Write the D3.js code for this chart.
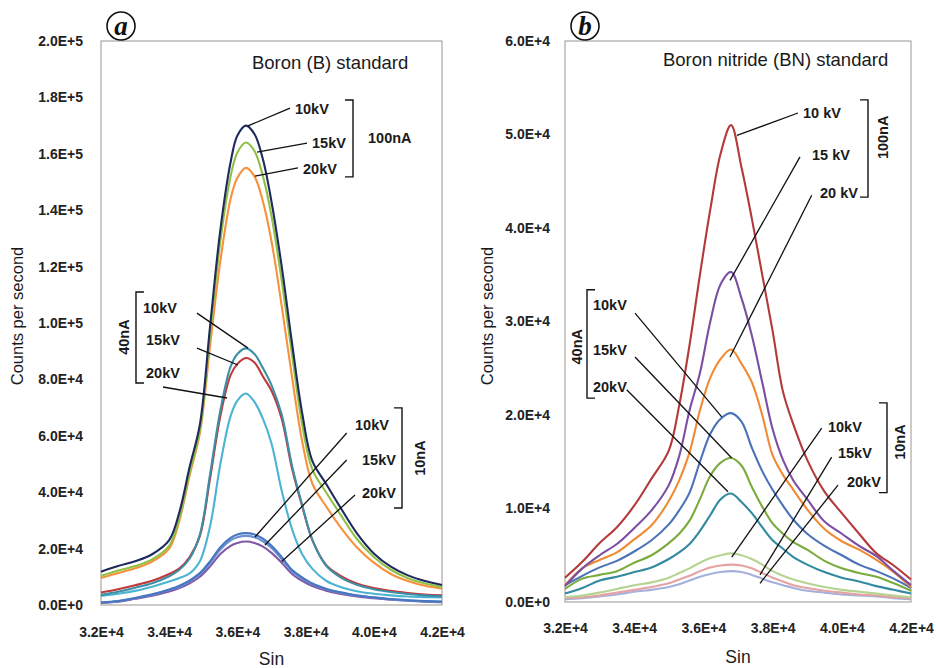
<html>
<head>
<script src="https://d3js.org/d3.v7.min.js"></script>
<style>
  body { margin: 0; background: #fff; }
  .tick text { font-family: "Liberation Sans", Arial, sans-serif; font-weight: bold; font-size: 14px; fill: #222; }
  .lab { font-family: "Liberation Sans", Arial, sans-serif; font-weight: bold; font-size: 14.5px; fill: #1a1a1a; }
  .ttl { font-family: "Liberation Sans", Arial, sans-serif; font-size: 18.5px; fill: #1a1a1a; }
  .axt { font-family: "Liberation Sans", Arial, sans-serif; font-size: 17.5px; fill: #1a1a1a; }
  .ylab { font-size: 16.5px; }
</style>
</head>
<body>
<script>
// x values (Sin) sampled for each panel
const sinA = [32000, 32500, 33000, 33500, 34000, 34300, 34600, 34900, 35200, 35500, 35800, 36000, 36250, 36500,
              36750, 37000, 37300, 37600, 37900, 38200, 38600, 39000, 39500, 40000, 40500, 41000, 41500, 42000];
const sinB = [32000, 32500, 33000, 33500, 34000, 34500, 35000, 35300, 35600, 35900, 36200, 36500, 36800,
              37100, 37400, 37700, 38000, 38300, 38600, 39000, 39500, 40000, 40500, 41000, 41500, 42000];

// counts per second, in thousands
// (a) boron standard
const a100_10 = [11.8, 13.8, 15.5, 18.0, 23, 33, 49, 64, 99, 133, 157, 166.5, 170, 167, 158, 143, 120, 93, 68, 51, 43, 35, 25.5, 18.3, 13.6, 10.5, 8.5, 7.1];
const a100_15 = [10.3, 12.2, 13.8, 16.2, 21, 31, 47, 62, 96, 129, 152, 160.5, 164, 161, 152, 138, 115, 89, 64, 48, 40, 32.5, 23.5, 17, 12.5, 9.5, 7.6, 6.4];
const a100_20 = [9.6, 11.3, 13, 15.4, 20, 30, 46, 61, 92, 122, 144, 151.5, 155, 152, 143, 129, 106, 81, 58, 43, 35, 28, 20.5, 15, 11, 8.5, 6.8, 5.8];
const a40_10 = [3.6, 4.7, 6.1, 7.7, 10.2, 12.5, 16.5, 25, 46.5, 69, 84.5, 89, 91, 89, 84, 78, 67.5, 49.5, 35.5, 23, 14, 10, 7.2, 5.6, 4.6, 3.9, 3.4, 3.1];
const a40_15 = [4.4, 5.6, 7.0, 8.6, 11, 13, 17, 24.5, 45, 67, 81.5, 85.5, 87.6, 86, 81, 76, 66, 48.5, 35, 23, 14.2, 10.5, 7.6, 6, 5, 4.2, 3.7, 3.4];
const a40_20 = [3.2, 4.0, 5.0, 6.5, 8.3, 9.6, 11.2, 15.5, 28, 50, 67, 72.5, 75, 72, 66, 57.3, 40.5, 27, 18, 12.8, 8.6, 6.5, 4.9, 4.0, 3.4, 3.0, 2.8, 2.7];
const a10_10 = [0.9, 1.4, 2.5, 3.8, 5.5, 6.8, 8.7, 11.3, 15.5, 20.5, 23.8, 25, 25.5, 25, 23.5, 21, 17, 12.5, 9.8, 7.6, 5.8, 4.6, 3.4, 2.7, 2.1, 1.7, 1.4, 1.2];
const a10_15 = [0.9, 1.3, 2.4, 3.6, 5.3, 6.5, 8.4, 10.9, 14.9, 19.7, 22.9, 24, 24.5, 24, 22.6, 20.2, 16.3, 12, 9.4, 7.3, 5.6, 4.4, 3.3, 2.6, 2.0, 1.6, 1.3, 1.1];
const a10_20 = [0.8, 1.2, 2.2, 3.3, 4.8, 6.0, 7.7, 10, 13.7, 18.1, 21, 22, 22.5, 22, 20.7, 18.5, 15, 11, 8.6, 6.7, 5.1, 4.0, 3.0, 2.4, 1.9, 1.5, 1.2, 1.0];

// (b) boron nitride standard
const b100_10 = [2.6, 4.3, 6.3, 8.0, 10.3, 13.2, 16.2, 21, 27.5, 35, 42, 48, 51, 46.5, 41, 35, 29, 22.5, 19, 15.2, 11.8, 9.5, 7.3, 5.2, 3.9, 2.4];
const b100_15 = [1.7, 3.6, 5.0, 6.2, 7.9, 9.8, 12.5, 15.6, 20.5, 24.5, 30, 34, 35.3, 32.5, 28.5, 23.5, 18.5, 15.2, 13, 11, 8.6, 7.3, 6.0, 4.9, 3.3, 1.8];
const b100_20 = [1.8, 3.6, 4.5, 5.3, 6.7, 8.2, 10.8, 13, 16, 20.5, 24, 26, 27, 25.5, 23.5, 20, 15.7, 13.6, 12, 9.9, 7.8, 6.5, 5.6, 4.5, 3.2, 1.6];
const b40_10 = [1.8, 2.8, 3.7, 4.4, 5.4, 6.6, 8.3, 9.8, 11.7, 15, 18, 19.6, 20.2, 19.3, 16.5, 14, 12, 10.3, 8.8, 7.3, 6, 5, 4, 3.3, 2.5, 1.5];
const b40_15 = [1.4, 2.5, 2.9, 3.3, 4.2, 5.0, 6.3, 7.3, 8.7, 11, 13.5, 14.9, 15.4, 14.6, 12.3, 10.2, 8.4, 7.3, 6.4, 5.6, 4.4, 3.6, 3.1, 2.7, 2.0, 1.2];
const b40_20 = [0.9, 1.5, 2.3, 2.7, 3.2, 3.7, 4.6, 5.3, 6.2, 7.6, 9.3, 11, 11.6, 10.7, 9.5, 8.0, 6.6, 5.7, 4.8, 4.0, 3.2, 2.6, 2.2, 1.7, 1.3, 0.9];
const b10_10 = [0.5, 0.7, 1.0, 1.4, 1.8, 2.1, 2.6, 3.1, 3.6, 4.2, 4.7, 5.0, 5.2, 5.0, 4.6, 4.0, 3.3, 2.8, 2.4, 2.0, 1.6, 1.3, 1.1, 0.9, 0.7, 0.5];
const b10_15 = [0.4, 0.5, 0.7, 1.0, 1.3, 1.6, 2.0, 2.4, 2.8, 3.3, 3.7, 3.9, 4.0, 3.9, 3.6, 3.1, 2.6, 2.2, 1.8, 1.5, 1.2, 1.0, 0.8, 0.7, 0.5, 0.4];
const b10_20 = [0.3, 0.4, 0.6, 0.8, 1.1, 1.3, 1.6, 1.9, 2.3, 2.7, 3.0, 3.2, 3.3, 3.2, 2.9, 2.5, 2.1, 1.8, 1.5, 1.2, 1.0, 0.8, 0.7, 0.6, 0.4, 0.3];

const xTicks = [32000, 34000, 36000, 38000, 40000, 42000];
const yTicksA = [0, 20, 40, 60, 80, 100, 120, 140, 160, 180, 200];
const yTicksB = [0, 10, 20, 30, 40, 50, 60];

const colorsA = ["#8058a8", "#6a8ed0", "#4677c0", "#4ab4d2", "#c0393b", "#3d8ea6", "#f7913d", "#8dc043", "#1f2a5e"];
const colorsB = ["#a5b0dc", "#e4a2a2", "#b6d491", "#33899f", "#7aab3c", "#4a72b8", "#f08a34", "#7b4ea3", "#b3393a"];

// annotations, in data units (Sin, thousands of counts)
const leadersA = [[37543, 176.2, 36311, 169.9], [38041, 163.8, 36575, 160.6], [37777, 155.0, 36516, 152.1],
                  [34815, 103.5, 36311, 91.1], [34815, 91.1, 36018, 85.1], [33818, 77.3, 35695, 73.4],
                  [39205, 61.0, 36516, 24.1], [39205, 51.4, 36809, 21.3], [39449, 39.0, 37299, 15.4]];
const labelsA = [["10kV", 37689, 175.9], ["15kV", 38188, 163.8], ["20kV", 37924, 154.6],
                 ["10kV", 33232, 105.3], ["15kV", 33320, 94.0], ["20kV", 33320, 82.3],
                 ["10kV", 39449, 63.8], ["15kV", 39654, 51.4], ["20kV", 39654, 39.7]];
const bracketsA = [[39390, 179.1, 151.8, -1], [33026, 111.0, 78.7, 1], [40827, 69.9, 34.4, -1]];
const groupsA = [["100nA", 39830, 165.6, 0], ["40nA", 32674, 95.0, 1], ["10nA", 41355, 52.1, 1]];

const leadersB = [[38734, 52.3, 36971, 49.9], [38792, 47.6, 36769, 34.4], [39130, 43.5, 36769, 26.2],
                  [34023, 30.9, 36529, 19.8], [34023, 26.2, 36818, 15.4], [33783, 22.7, 36711, 11.8],
                  [39419, 18.6, 36818, 4.8], [39708, 15.5, 37636, 2.9], [39890, 12.5, 37636, 2.0]];
const labelsB = [["10 kV", 38879, 52.3], ["15 kV", 39139, 47.8], ["20 kV", 39370, 43.7],
                 ["10kV", 32809, 31.8], ["15kV", 32809, 27.0], ["20kV", 32809, 23.0],
                 ["10kV", 39601, 18.7], ["15kV", 39890, 15.9], ["20kV", 40150, 12.8]];
const bracketsB = [[40757, 53.7, 43.3, -1], [32636, 33.4, 21.8, 1], [41306, 21.3, 11.7, -1]];
const groupsB = [["100nA", 41191, 49.7, 1], ["40nA", 32347, 27.3, 1], ["10nA", 41682, 17.1, 1]];

const svg = d3.select("body").append("svg").attr("width", 936).attr("height", 668);

function drawPanel(p) {
  const x = d3.scaleLinear().domain([32000, 42000]).range([p.left, p.right]);
  const y = d3.scaleLinear().domain([0, p.ymax]).range([p.bottom, p.top]);
  const g = svg.append("g");
  const fmt = v => d3.format(".1e")(v).toUpperCase();

  g.append("rect").attr("x", p.left).attr("y", p.top)
    .attr("width", p.right - p.left).attr("height", p.bottom - p.top)
    .attr("fill", "none").attr("stroke", "#9a9490").attr("stroke-width", 1);

  g.append("g").attr("transform", `translate(${p.left},0)`)
    .call(d3.axisLeft(y).tickValues(p.yTicks).tickSize(0).tickPadding(p.padY).tickFormat(d => fmt(d * 1000)))
    .call(s => s.select(".domain").remove());
  g.append("g").attr("transform", `translate(0,${p.bottom})`)
    .call(d3.axisBottom(x).tickValues(xTicks).tickSize(0).tickPadding(p.padX).tickFormat(fmt))
    .call(s => s.select(".domain").remove());
  g.selectAll(".tick text").attr("font-family", null).attr("font-size", null).attr("fill", null);

  const line = d3.line().x((d, i) => x(p.sin[i])).y(d => y(d)).curve(d3.curveCatmullRom.alpha(0.5));
  g.selectAll("path.curve").data(p.series).join("path").attr("class", "curve")
    .attr("d", line).attr("fill", "none")
    .attr("stroke", (d, i) => p.colors[i]).attr("stroke-width", 2.1).attr("stroke-linejoin", "round");

  g.selectAll("line.lead").data(p.leaders).join("line").attr("class", "lead")
    .attr("x1", d => x(d[0])).attr("y1", d => y(d[1])).attr("x2", d => x(d[2])).attr("y2", d => y(d[3]))
    .attr("stroke", "#111").attr("stroke-width", 1.3);

  g.selectAll("text.lab").data(p.labels).join("text").attr("class", "lab")
    .attr("x", d => x(d[1])).attr("y", d => y(d[2])).attr("dy", "0.35em").text(d => d[0]);

  g.selectAll("path.brk").data(p.brackets).join("path").attr("class", "brk")
    .attr("d", d => {
      const bx = x(d[0]), t = 8 * d[3];
      return `M${bx + t},${y(d[1])}H${bx}V${y(d[2])}H${bx + t}`;
    })
    .attr("fill", "none").attr("stroke", "#111").attr("stroke-width", 1.4);

  g.selectAll("text.grp").data(p.groups).join("text").attr("class", "lab grp")
    .attr("text-anchor", d => d[3] ? "middle" : "start")
    .attr("transform", d => `translate(${x(d[1])},${y(d[2])})` + (d[3] ? " rotate(-90)" : ""))
    .attr("dy", "0.35em").text(d => d[0]);

  g.append("text").attr("class", "ttl").attr("x", x(p.title[1])).attr("y", y(p.title[2]))
    .attr("dy", "0.35em").text(p.title[0]);

  g.append("text").attr("class", "axt ylab").attr("text-anchor", "middle")
    .attr("transform", `translate(${p.ylabX},316) rotate(-90)`).attr("dy", "0.35em").text("Counts per second");
  g.append("text").attr("class", "axt").attr("text-anchor", "middle")
    .attr("x", (p.left + p.right) / 2).attr("y", p.xlabY).text("Sin");

  // circled panel letter
  const cx = p.left + 20, cy = 26;
  g.append("circle").attr("cx", cx).attr("cy", cy).attr("r", 14)
    .attr("fill", "#fff").attr("stroke", "#111").attr("stroke-width", 1.6);
  g.append("text").attr("x", cx).attr("y", cy).attr("dy", "0.33em").attr("text-anchor", "middle")
    .attr("font-family", "'Liberation Serif', 'DejaVu Serif', serif").attr("font-style", "italic")
    .attr("font-weight", "bold").attr("font-size", 27).attr("fill", "#111").text(p.letter);
}

drawPanel({
  left: 101, right: 442, top: 41, bottom: 605, ymax: 200, yTicks: yTicksA, padY: 18, padX: 22,
  sin: sinA, series: [a10_20, a10_15, a10_10, a40_20, a40_15, a40_10, a100_20, a100_15, a100_10], colors: colorsA,
  leaders: leadersA, labels: labelsA, brackets: bracketsA, groups: groupsA,
  title: ["Boron (B) standard", 36428, 192.2], ylabX: 17, xlabY: 665, letter: "a"
});
drawPanel({
  left: 565, right: 911, top: 41, bottom: 602, ymax: 60, yTicks: yTicksB, padY: 15, padX: 21,
  sin: sinB, series: [b10_20, b10_15, b10_10, b40_20, b40_15, b40_10, b100_20, b100_15, b100_10], colors: colorsB,
  leaders: leadersB, labels: labelsB, brackets: bracketsB, groups: groupsB,
  title: ["Boron nitride (BN) standard", 34832, 58.0], ylabX: 487, xlabY: 663, letter: "b"
});
</script>
</body>
</html>
